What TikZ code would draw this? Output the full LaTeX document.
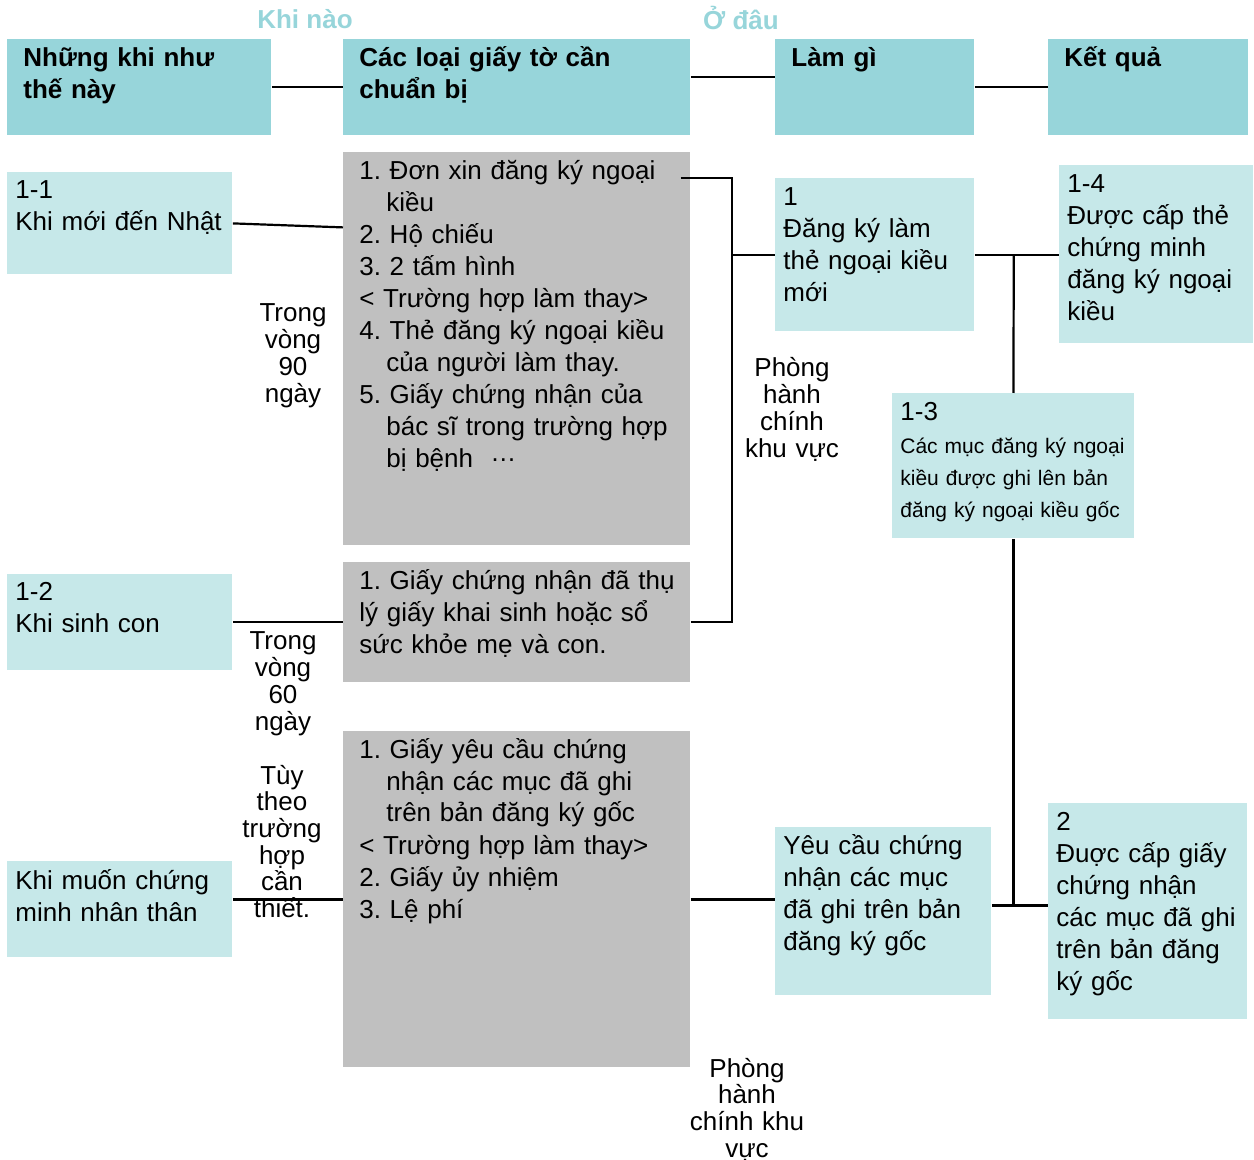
\documentclass[tikz,border=0pt]{standalone}
\usepackage{fontspec}
\setmainfont{Liberation Sans}
\usetikzlibrary{calc}
\definecolor{hdrblue}{HTML}{97D5DA}
\definecolor{liteblue}{HTML}{C6E8E9}
\definecolor{docgrey}{HTML}{C0C0C0}
\newcommand{\cont}{\hspace*{13.5pt}}
\lineskiplimit=-50pt
\frenchspacing

\tikzset{
  cell/.style={inner sep=0pt, anchor=north west},
  head/.style={cell, fill=hdrblue},
  item/.style={cell, fill=liteblue},
  docs/.style={cell, fill=docgrey},
  txt/.style={inner sep=0pt, anchor=base west, text width=190pt, align=left,
    font=\fontsize{13}{16}\selectfont},
  boldtxt/.style={txt, font=\fontsize{13}{16}\selectfont\bfseries},
  smalltxt/.style={txt, font=\fontsize{10.5}{16}\selectfont},
  note/.style={inner sep=0pt, anchor=base, text width=70pt, align=center,
    font=\fontsize{13}{13.35}\selectfont},
  colhead/.style={inner sep=0pt, anchor=base, text=hdrblue,
    font=\fontsize{13}{16}\selectfont\bfseries},
  wire/.style={line width=1.1pt}
}

\begin{document}
\begin{tikzpicture}[x=0.5pt,y=-0.5pt]
  \useasboundingbox (0,0) rectangle (1254,1160);
  % column heads
  \node[colhead] (when) at (305,29) {Khi nào};
  \node[colhead] (where) at (741,30) {Ở đâu};
  \node[head, minimum width=132pt, minimum height=48pt] (h1) at (7,39) {};
  \node[head, minimum width=173.5pt, minimum height=48pt] (h2) at (343,39) {};
  \node[head, minimum width=99.5pt, minimum height=48pt] (h3) at (775,39) {};
  \node[head, minimum width=100pt, minimum height=48pt] (h4) at (1048,39) {};
  \node[boldtxt] (h1t) at (23,67) {Những khi như\\thế này};
  \node[boldtxt] (h2t) at (359,67) {Các loại giấy tờ cần\\chuẩn bị};
  \node[boldtxt] (h3t) at (791,67) {Làm gì};
  \node[boldtxt] (h4t) at (1064,67) {Kết quả};

  % cases
  \node[item, minimum width=112.5pt, minimum height=51pt] (b11) at (7,172) {};
  \node[item, minimum width=112.5pt, minimum height=48pt] (b12) at (7,574) {};
  \node[item, minimum width=112.5pt, minimum height=48pt] (b13) at (7,861) {};
  \node[txt] (b11t) at (15,199) {1-1\\Khi mới đến Nhật};
  \node[txt] (b12t) at (15,601) {1-2\\Khi sinh con};
  \node[txt] (b13t) at (15,889) {Khi muốn chứng\\minh nhân thân};

  % documents
  \node[docs, minimum width=173.5pt, minimum height=196.5pt] (g1) at (343,152) {};
  \node[docs, minimum width=173.5pt, minimum height=60pt] (g2) at (343,562) {};
  \node[docs, minimum width=173.5pt, minimum height=168pt] (g3) at (343,731) {};
  \node[txt] (g1t) at (359,180) {1. Đơn xin đăng ký ngoại\\\cont kiều\\2. Hộ chiếu\\3. 2 tấm hình\\
    < Trường hợp làm thay>\\4. Thẻ đăng ký ngoại kiều\\\cont của người làm thay.\\
    5. Giấy chứng nhận của\\\cont bác sĩ trong trường hợp\\\cont bị bệnh\ \ \raisebox{3pt}{…}};
  \node[txt] (g2t) at (359,590) {1. Giấy chứng nhận đã thụ\\lý giấy khai sinh hoặc sổ\\sức khỏe mẹ và con.};
  \node[txt] (g3t) at (359,758) {1. Giấy yêu cầu chứng\\\cont nhận các mục đã ghi\\\cont trên bản đăng ký gốc\\
    < Trường hợp làm thay>\\2. Giấy ủy nhiệm\\3. Lệ phí};

  % deadlines
  \node[note] (d90) at (293,322) {Trong\\vòng\\90\\ngày};
  \node[note] (d60) at (283,650) {Trong\\vòng\\60\\ngày};
  \node[note] (dany) at (282,784) {Tùy\\theo\\trường\\hợp\\cần\\thiết.};

  % offices
  \node[note] (office1) at (792,377) {Phòng\\hành\\chính\\khu vực};
  \node[note] (office2) at (747,1077) {Phòng\\hành\\chính khu\\vực};

  % actions and results
  \node[item, minimum width=99.5pt, minimum height=76.5pt] (r1) at (775,178) {};
  \node[item, minimum width=97pt, minimum height=89pt] (r14) at (1059,165) {};
  \node[item, minimum width=121pt, minimum height=72.5pt] (r13) at (892,393) {};
  \node[item, minimum width=108pt, minimum height=84pt] (r2a) at (775,827) {};
  \node[item, minimum width=99.5pt, minimum height=108pt] (r2) at (1048,803) {};
  \node[txt] (r1t) at (783,206) {1\\Đăng ký làm\\thẻ ngoại kiều\\mới};
  \node[txt] (r14t) at (1067,193) {1-4\\Được cấp thẻ\\chứng minh\\đăng ký ngoại\\kiều};
  \node[txt] (r13t) at (900,421) {1-3};
  \node[smalltxt] (r13s) at (900,454) {Các mục đăng ký ngoại\\kiều được ghi lên bản\\đăng ký ngoại kiều gốc};
  \node[txt] (r2at) at (783,854) {Yêu cầu chứng\\nhận các mục\\đã ghi trên bản\\đăng ký gốc};
  \node[txt] (r2t) at (1056,830) {2\\Đuợc cấp giấy\\chứng nhận\\các mục đã ghi\\trên bản đăng\\ký gốc};

  % connectors
  \draw[wire] (h1) -- (h2);
  \draw[wire] ([yshift=5pt]h2.east) -- ([yshift=5pt]h3.west);
  \draw[wire] (h3) -- (h4);
  \draw[wire] (b11.east) -- ($(b11.east -| g1.west)+(0,4)$);
  \draw[wire] (b12) -- (g2);
  \draw[wire] (b13.east |- g3.west) -- (g3.west);
  \draw[wire] (g3.east) -- (g3.east -| r2a.west);
  \coordinate (j1) at ($(r1.west)+(-43,0)$);
  \draw[wire] ($(g1.north east)+(-10,26)$) -| (j1) -- (r1.west);
  \draw[wire] (g2.east) -| (j1);
  \draw[wire] (r1.east) -- (r1.east -| r14.west);
  \coordinate (j2) at ($(r1.east)+(39,0)$);
  \draw[wire] (j2) -- (r13.north);
  \coordinate (j3) at ($(r13.south |- r2.west)+(0,-6)$);
  \draw[wire] (r13.south) -- (j3);
  \draw[wire] (j3 -| r2a.east) -- (j3 -| r2.west);
\end{tikzpicture}
\end{document}
